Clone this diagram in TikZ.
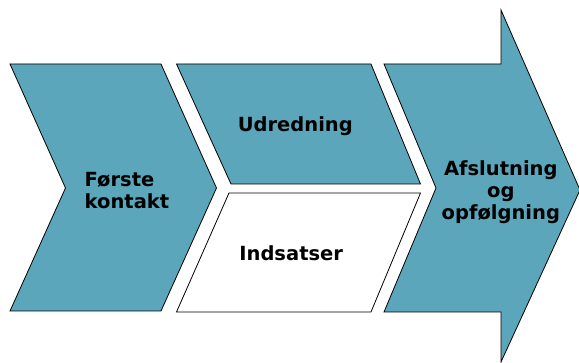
\documentclass[tikz,border=0pt]{standalone}
\usepackage{fontspec}
\setmainfont{DejaVu Sans}
\definecolor{stepteal}{RGB}{92,166,187}
\begin{document}
\begin{tikzpicture}[x=1pt,y=-1pt,
  panel/.style={draw=black, line width=0.8pt, line join=miter},
  tealpanel/.style={panel, fill=stepteal},
  whitepanel/.style={panel, fill=white},
  label/.style={font=\bfseries\fontsize{19.5}{22}\selectfont, inner sep=0pt, text=black}]
  \useasboundingbox (0,0) rectangle (579,363);

  % first chevron
  \path[tealpanel] (10,64) -- (161,64) -- (216.5,188) -- (161,311) -- (10,311) -- (65.5,188) -- cycle;
  % upper and lower parallelograms
  \path[tealpanel] (176.5,64) -- (371,64) -- (420.5,184) -- (231,184) -- cycle;
  \path[whitepanel] (229,193) -- (420.5,193) -- (371,312) -- (176.5,312) -- cycle;
  % closing arrow
  \path[tealpanel] (384,64) -- (501,64) -- (501,10) -- (580,190) -- (501,362) -- (501,312)
    -- (384,312) -- (436,188) -- cycle;

  % labels
  \node[label, align=left, anchor=west] (first) at (84.5,191) {Første\\kontakt};
  \node[label] (assess) at (295.3,126) {Udredning};
  \node[label] (actions) at (291.2,252.8) {Indsatser};
  \node[label, align=center] (closing) at (500.8,192) {Afslutning\\og\\opfølgning};
\end{tikzpicture}
\end{document}
